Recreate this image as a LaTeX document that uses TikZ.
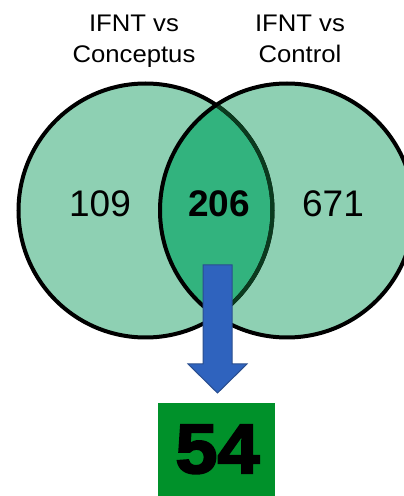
\documentclass[tikz,border=0pt]{standalone}
\usepackage{fontspec}
\setmainfont{Liberation Sans}
\newfontfamily\lblfont[FakeStretch=1.07]{Liberation Sans}
\newfontfamily\heavyfont[FakeBold=3,FakeStretch=1.08]{Liberation Sans Bold}
\definecolor{vennlight}{HTML}{8ED0B3}
\definecolor{vennlens}{HTML}{32B37E}
\definecolor{lensedge}{HTML}{0B3A1E}
\definecolor{arrfill}{HTML}{2F63BE}
\definecolor{arredge}{HTML}{2A4E8E}
\definecolor{boxgreen}{HTML}{00912A}
\tikzset{
  lbl/.style={font=\lblfont\fontsize{24}{29}\selectfont, inner sep=0pt, anchor=base},
  num/.style={font=\fontsize{37}{44}\selectfont, inner sep=0pt, anchor=base},
  ring/.style={line width=4pt, draw=black},
}
\begin{document}
\begin{tikzpicture}[x=1pt,y=1pt]
\useasboundingbox (0,0) rectangle (404,496);
\clip (0,0) rectangle (404,496);
% circles
\coordinate (cl) at (145.5,285.5);
\coordinate (cr) at (287,285.5);
\fill[vennlight] (cl) circle (127);
\fill[vennlight] (cr) circle (127);
\begin{scope}
  \clip (cl) circle (127);
  \fill[vennlens] (cr) circle (127);
\end{scope}
\draw[ring] (cl) circle (127);
\draw[ring] (cr) circle (127);
\begin{scope}
  \clip (cr) circle (125);
  \draw[line width=4pt, draw=lensedge] (cl) circle (127);
\end{scope}
% labels
\node[lbl] (l1) at (134,464) {IFNT vs};
\node[lbl] (l2) at (134,433) {Conceptus};
\node[lbl] (r1) at (300,464) {IFNT vs};
\node[lbl] (r2) at (300,433) {Control};
% numbers
\node[num] (n109) at (100,279) {109};
\node[num, font=\fontsize{37}{44}\selectfont\bfseries] (n206) at (219,279) {206};
\node[num] (n671) at (333,279) {671};
% result box
\node[fill=boxgreen, minimum width=117pt, minimum height=100pt, inner sep=0pt, anchor=north west] (res) at (158,93) {};
\node[font=\heavyfont\fontsize{70}{80}\selectfont, inner sep=0pt, anchor=base] (n54) at (217.5,23) {54};
% arrow
\coordinate (atop) at (217.5,231);
\coordinate (atip) at (217.5,103);
\filldraw[fill=arrfill, draw=arredge, line width=1pt]
  ([xshift=-14.5pt]atop) -- ([xshift=14.5pt]atop)
  -- ([xshift=14.5pt,yshift=29pt]atip) -- ([xshift=29.5pt,yshift=29pt]atip)
  -- (atip)
  -- ([xshift=-29.5pt,yshift=29pt]atip) -- ([xshift=-14.5pt,yshift=29pt]atip)
  -- cycle;
\end{tikzpicture}
\end{document}
